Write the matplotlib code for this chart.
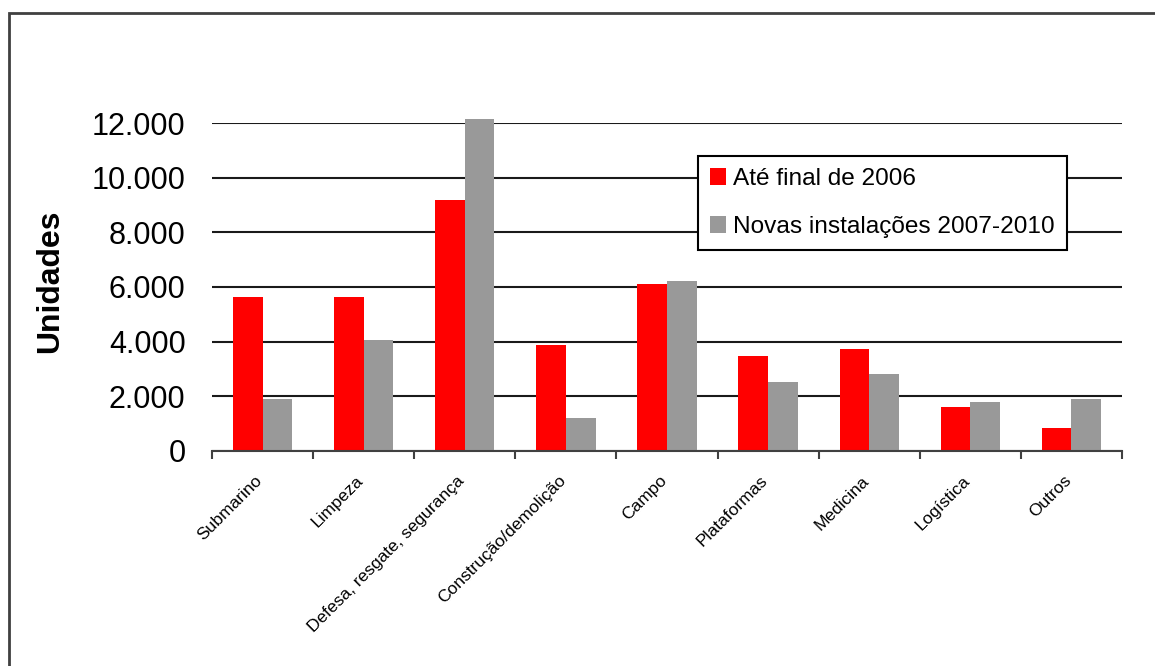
import numpy as np
import matplotlib.pyplot as plt
from matplotlib.patches import Rectangle
from matplotlib.ticker import FixedLocator, FuncFormatter
from matplotlib.transforms import ScaledTranslation

plt.rcParams['font.family'] = ['Liberation Sans', 'DejaVu Sans']

# categorias e unidades por série
categorias = ['Submarino', 'Limpeza', 'Defesa, resgate, segurança',
              'Construção/demolição', 'Campo', 'Plataformas', 'Medicina',
              'Logística', 'Outros']
ate_2006 = [5650, 5650, 9190, 3870, 6110, 3480, 3720, 1610, 820]
novas_2007_2010 = [1890, 4060, 12150, 1210, 6220, 2520, 2800, 1770, 1890]
serie_nomes = ['Até final de 2006', 'Novas instalações 2007-2010']
yticks = [0, 2000, 4000, 6000, 8000, 10000, 12000]

fig = plt.figure(figsize=(11.55, 6.66), dpi=100)
ax = fig.add_axes([212 / 1155, 1 - 450.7 / 666, 910 / 1155, 327.4 / 666])

# moldura externa
fig.patches.append(Rectangle((8.5 / 1155, -0.2), 1.2, 1.2 - 13 / 666,
                             transform=fig.transFigure, fill=False,
                             edgecolor='#404040', lw=2))

x = np.arange(len(categorias))
w = 0.293
ax.bar(x - w / 2, ate_2006, w, color='#FF0000', label=serie_nomes[0],
       clip_on=False, zorder=3)
ax.bar(x + w / 2, novas_2007_2010, w, color='#999999', label=serie_nomes[1],
       clip_on=False, zorder=3)

ax.set_xlim(-0.5, len(categorias) - 0.5)
ax.set_ylim(0, 12000)
ax.set_yticks(yticks)
ax.yaxis.set_major_formatter(FuncFormatter(lambda v, p: f"{int(v):,}".replace(",", ".")))
ax.tick_params(axis='y', length=0, pad=19, labelsize=22)
ax.yaxis.grid(True, color='#1a1a1a', lw=1.5)
ax.set_axisbelow(True)

ax.set_xticks(x)
ax.set_xticklabels(categorias, rotation=45, ha='right', va='top',
                   rotation_mode='anchor', fontsize=12.5)
ax.tick_params(axis='x', which='major', length=0, pad=16)
shift = ScaledTranslation(-8 / 100, 0, fig.dpi_scale_trans)
for lbl in ax.get_xticklabels():
    lbl.set_transform(lbl.get_transform() + shift)
ax.xaxis.set_minor_locator(FixedLocator(np.arange(-0.5, len(categorias), 1)))
ax.tick_params(axis='x', which='minor', length=6, width=1.5, color='#404040')

for s in ['left', 'right', 'top']:
    ax.spines[s].set_visible(False)
ax.spines['bottom'].set_color('#404040')
ax.spines['bottom'].set_linewidth(1.5)
ax.spines['bottom'].set_zorder(4)

ax.set_ylabel('Unidades', fontsize=23, fontweight='bold')
ax.yaxis.set_label_coords(50 / 1155, 1 - 281 / 666, transform=fig.transFigure)
ax.yaxis.label.set_va('center')

leg = ax.legend(loc='upper left', bbox_to_anchor=(0.534, 0.901),
                fontsize=17.6, frameon=True, fancybox=False, edgecolor='black',
                framealpha=1, handlelength=0.65, handleheight=0.65,
                handletextpad=0.3, labelspacing=1.07, borderpad=0.5,
                borderaxespad=0)
leg.get_frame().set_linewidth(1.5)
leg.set_zorder(5)

fig.savefig('out.png', dpi=100)
